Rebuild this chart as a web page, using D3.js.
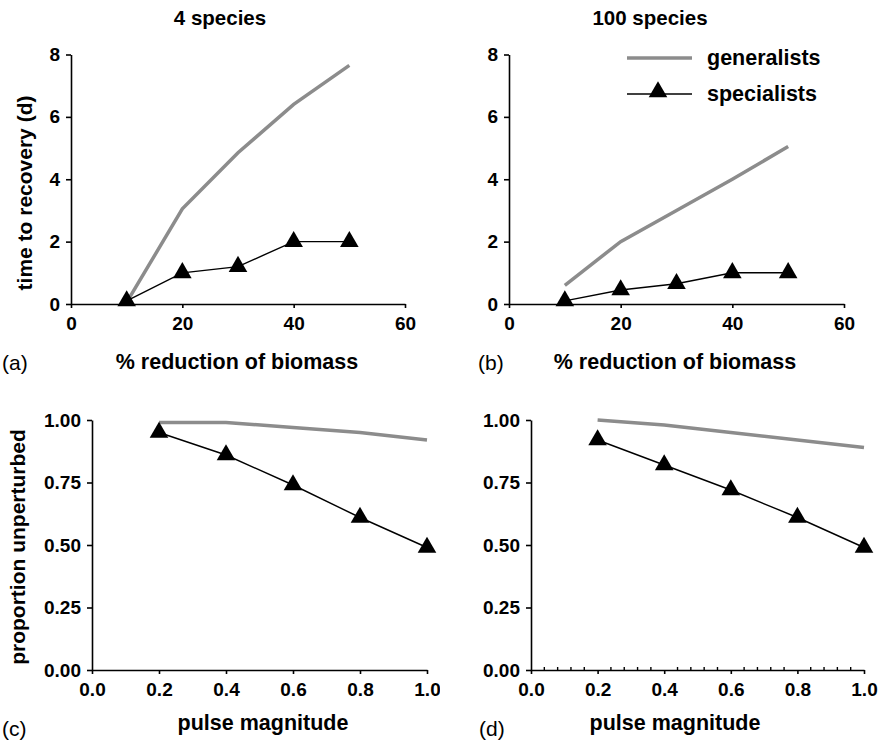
<!DOCTYPE html>
<html>
<head>
<meta charset="utf-8">
<script src="https://cdn.jsdelivr.net/npm/d3@7"></script>
<style>
  body { margin: 0; background: #fff; }
  svg { display: block; font-family: "Liberation Sans", Arial, sans-serif; }
</style>
</head>
<body>
<div id="chart"></div>
<script>
// biomass reduction panels (a, b)
const reduction = [10, 20, 30, 40, 50];
const genRecovery4 = [0.05, 3.05, 4.85, 6.4, 7.65];
const specRecovery4 = [0.1, 1.0, 1.2, 2.0, 2.0];
const genRecovery100 = [0.6, 2.0, 3.0, 4.0, 5.05];
const specRecovery100 = [0.1, 0.45, 0.65, 1.0, 1.0];

// pulse panels (c, d)
const pulse = [0.2, 0.4, 0.6, 0.8, 1.0];
const genUnpert4 = [0.99, 0.99, 0.97, 0.95, 0.92];
const specUnpert4 = [0.95, 0.86, 0.74, 0.61, 0.49];
const genUnpert100 = [1.0, 0.98, 0.95, 0.92, 0.89];
const specUnpert100 = [0.92, 0.82, 0.72, 0.61, 0.49];

const recoveryTicks = [0, 2, 4, 6, 8];
const reductionTicks = [0, 20, 40, 60];
const proportionTicks = [0, 0.25, 0.5, 0.75, 1];
const pulseTicks = [0, 0.2, 0.4, 0.6, 0.8, 1];

const width = 881, height = 748;
const grey = "#8c8c8c";
const triSize = 150;
const fontFam = '"Liberation Sans", Arial, sans-serif';

const svg = d3.select("#chart").append("svg")
  .attr("width", width)
  .attr("height", height);

const panels = [
  { id: "a", x: reduction, gen: genRecovery4, spec: specRecovery4,
    xr: [71, 405], yr: [304, 54.5], xd: [0, 60], yd: [0, 8],
    xt: reductionTicks, yt: recoveryTicks, xf: d3.format("d"), yf: d3.format("d"),
    clip: [0, 0, 440, 374], minor: false },
  { id: "b", x: reduction, gen: genRecovery100, spec: specRecovery100,
    xr: [509, 844], yr: [304, 54.5], xd: [0, 60], yd: [0, 8],
    xt: reductionTicks, yt: recoveryTicks, xf: d3.format("d"), yf: d3.format("d"),
    clip: [440, 0, 441, 374], minor: false },
  { id: "c", x: pulse, gen: genUnpert4, spec: specUnpert4,
    xr: [92, 427], yr: [670, 420], xd: [0, 1], yd: [0, 1],
    xt: pulseTicks, yt: proportionTicks, xf: d3.format(".1f"), yf: d3.format(".2f"),
    clip: [0, 374, 440, 374], minor: false },
  { id: "d", x: pulse, gen: genUnpert100, spec: specUnpert100,
    xr: [531, 864], yr: [670, 420], xd: [0, 1], yd: [0, 1],
    xt: pulseTicks, yt: proportionTicks, xf: d3.format(".1f"), yf: d3.format(".2f"),
    clip: [440, 374, 441, 374], minor: true }
];

const defs = svg.append("defs");

function styleAxis(sel) {
  sel.attr("font-family", fontFam).attr("font-size", 19).attr("font-weight", "bold");
  sel.selectAll("text").attr("fill", "#000");
  sel.selectAll(".domain, .tick line").attr("stroke", "#000").attr("stroke-width", 1.6);
}

panels.forEach(p => {
  defs.append("clipPath").attr("id", "clip-" + p.id)
    .append("rect")
    .attr("x", p.clip[0]).attr("y", p.clip[1])
    .attr("width", p.clip[2]).attr("height", p.clip[3]);

  const g = svg.append("g").attr("clip-path", `url(#clip-${p.id})`);

  const x = d3.scaleLinear().domain(p.xd).range(p.xr);
  const y = d3.scaleLinear().domain(p.yd).range(p.yr);

  g.append("g")
    .attr("transform", `translate(0,${p.yr[0]})`)
    .call(d3.axisBottom(x).tickValues(p.xt).tickFormat(p.xf).tickSize(4).tickPadding(9).tickSizeOuter(0))
    .call(styleAxis);

  g.append("g")
    .attr("transform", `translate(${p.xr[0]},0)`)
    .call(d3.axisLeft(y).tickValues(p.yt).tickFormat(p.yf).tickSize(5).tickPadding(6).tickSizeOuter(0))
    .call(styleAxis);

  if (p.minor) {
    const minorTicks = d3.range(0, 1.0001, 0.04).filter(v => Math.abs(v * 5 - Math.round(v * 5)) > 1e-6);
    g.selectAll(".minor")
      .data(minorTicks)
      .enter().append("line")
      .attr("x1", d => x(d)).attr("x2", d => x(d))
      .attr("y1", p.yr[0]).attr("y2", p.yr[0] - 3)
      .attr("stroke", "#000").attr("stroke-width", 1.4);
  }

  const pts = (vals) => p.x.map((v, i) => [x(v), y(vals[i])]);
  const line = d3.line();

  g.append("path")
    .attr("d", line(pts(p.gen)))
    .attr("fill", "none")
    .attr("stroke", grey)
    .attr("stroke-width", 3.5);

  g.append("path")
    .attr("d", line(pts(p.spec)))
    .attr("fill", "none")
    .attr("stroke", "#000")
    .attr("stroke-width", 1.4);

  g.selectAll(".tri")
    .data(pts(p.spec))
    .enter().append("path")
    .attr("transform", d => `translate(${d[0]},${d[1]})`)
    .attr("d", d3.symbol(d3.symbolTriangle, triSize)())
    .attr("fill", "#000");
});

// titles
svg.append("text").attr("x", 220).attr("y", 25).attr("text-anchor", "middle")
  .attr("font-weight", "bold").attr("font-size", 20.5).text("4 species");
svg.append("text").attr("x", 650).attr("y", 25).attr("text-anchor", "middle")
  .attr("font-weight", "bold").attr("font-size", 20.5).text("100 species");

// axis labels
const xLabels = [
  { x: 237, y: 369, t: "% reduction of biomass" },
  { x: 675, y: 369, t: "% reduction of biomass" },
  { x: 263, y: 730, t: "pulse magnitude" },
  { x: 675, y: 730, t: "pulse magnitude" }
];
svg.selectAll(".xlab")
  .data(xLabels)
  .enter().append("text")
  .attr("x", d => d.x).attr("y", d => d.y)
  .attr("text-anchor", "middle")
  .attr("font-weight", "bold").attr("font-size", 21.5)
  .text(d => d.t);

svg.append("text")
  .attr("transform", "translate(32,193) rotate(-90)")
  .attr("text-anchor", "middle")
  .attr("font-weight", "bold").attr("font-size", 21)
  .text("time to recovery (d)");
svg.append("text")
  .attr("transform", "translate(25,547) rotate(-90)")
  .attr("text-anchor", "middle")
  .attr("font-weight", "bold").attr("font-size", 21)
  .text("proportion unperturbed");

// panel letters
const letters = [
  { x: 2, y: 370, t: "(a)" },
  { x: 478, y: 370, t: "(b)" },
  { x: 2, y: 736, t: "(c)" },
  { x: 479, y: 736, t: "(d)" }
];
svg.selectAll(".letter")
  .data(letters)
  .enter().append("text")
  .attr("x", d => d.x).attr("y", d => d.y)
  .attr("font-size", 21)
  .text(d => d.t);

// legend in panel (b)
const legend = svg.append("g");
legend.append("line")
  .attr("x1", 627).attr("x2", 692).attr("y1", 58).attr("y2", 58)
  .attr("stroke", grey).attr("stroke-width", 3.5);
legend.append("text").attr("x", 707).attr("y", 65)
  .attr("font-weight", "bold").attr("font-size", 21.5).text("generalists");
legend.append("line")
  .attr("x1", 627).attr("x2", 692).attr("y1", 94).attr("y2", 94)
  .attr("stroke", "#000").attr("stroke-width", 1.4);
legend.append("path")
  .attr("transform", "translate(658,92)")
  .attr("d", d3.symbol(d3.symbolTriangle, triSize)())
  .attr("fill", "#000");
legend.append("text").attr("x", 707).attr("y", 101)
  .attr("font-weight", "bold").attr("font-size", 21.5).text("specialists");
</script>
</body>
</html>
